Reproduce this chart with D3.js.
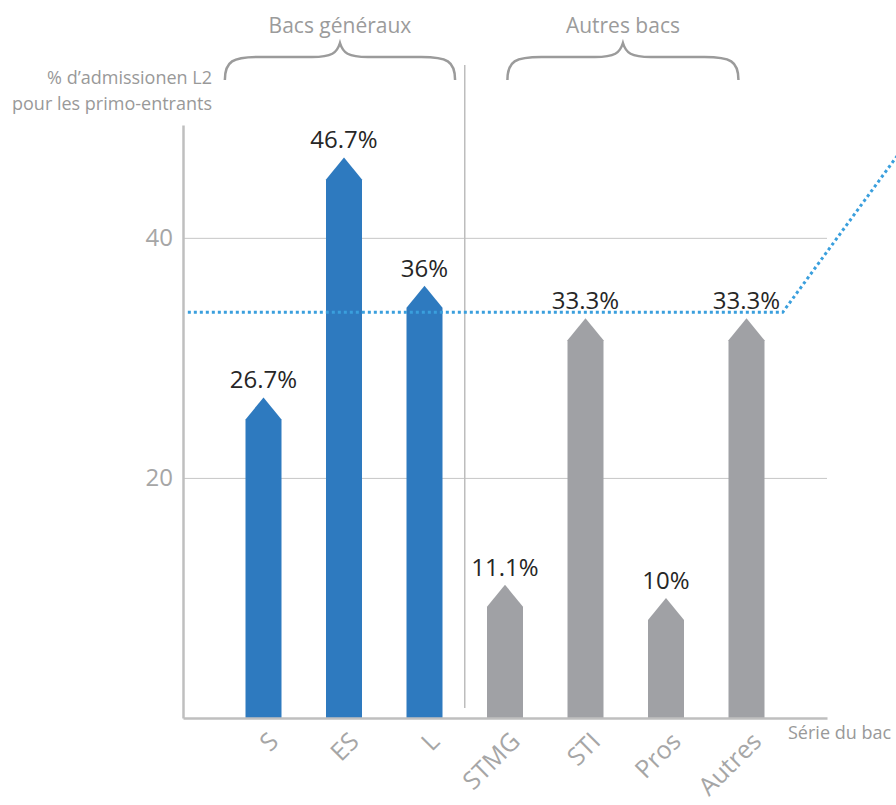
<!DOCTYPE html>
<html>
<head>
<meta charset="utf-8">
<script src="https://d3js.org/d3.v7.min.js"></script>
<style>
  body { margin: 0; background: #fff; }
  svg text { font-family: "Open Sans", sans-serif; }
</style>
</head>
<body>
<svg id="chart" width="896" height="805"></svg>
<script>
// data
var categories = ["S", "ES", "L", "STMG", "STI", "Pros", "Autres"];
var values = [26.7, 46.7, 36, 11.1, 33.3, 10, 33.3];
var valueLabels = ["26.7%", "46.7%", "36%", "11.1%", "33.3%", "10%", "33.3%"];
var groupOf = ["gen", "gen", "gen", "autres", "autres", "autres", "autres"];
var groupNames = ["Bacs généraux", "Autres bacs"];
var yTicks = [20, 40];
var avgValue = 33.8;
// dotted reference line, in (category index, value) space
var avgLine = [[0.06, avgValue], [7.45, avgValue], [9, 48]];

var svg = d3.select("#chart");
var plotLeft = 183, plotRight = 827, plotBottom = 718, plotTop = 125;

var x = d3.scalePoint().domain(categories).range([plotLeft, plotRight]).padding(1);
var xi = d3.scaleLinear([0, categories.length + 1], [plotLeft, plotRight]);
var y = d3.scaleLinear([0, 49.4], [plotBottom, plotTop]);
var color = d3.scaleOrdinal(["gen", "autres"], ["#2e7abf", "#a0a1a5"]);

// gridlines
svg.append("g")
    .attr("transform", "translate(" + plotLeft + ",0)")
    .call(d3.axisLeft(y).tickValues(yTicks).tickSize(-(plotRight - plotLeft)).tickFormat(""))
    .call(g => g.select(".domain").remove())
    .call(g => g.selectAll("line").attr("stroke", "#c6c6c6").attr("stroke-width", 1));

// y axis + labels
svg.append("g")
    .attr("transform", "translate(" + plotLeft + ",0)")
    .call(d3.axisLeft(y).tickValues(yTicks).tickSize(0).tickSizeOuter(0).tickPadding(10))
    .call(g => g.select(".domain").attr("stroke", "#bfbfbf").attr("stroke-width", 2.5))
    .call(g => g.selectAll("text").attr("fill", "#a6a6a6").style("font-size", "24px"));

svg.append("text").attr("x", 212).attr("y", 84).attr("text-anchor", "end")
    .attr("fill", "#999").style("font-size", "18px").text("% d’admissionen L2");
svg.append("text").attr("x", 212).attr("y", 110).attr("text-anchor", "end")
    .attr("fill", "#999").style("font-size", "18px").text("pour les primo-entrants");

// separator between groups
svg.append("line")
    .attr("x1", xi(3.5)).attr("x2", xi(3.5))
    .attr("y1", 65).attr("y2", 708)
    .attr("stroke", "#bdbdbd").attr("stroke-width", 1.5);

// bars with arrow heads
var bw = 36, head = 22;
function arrow(d, i) {
    var cx = x(categories[i]), t = y(d);
    return "M" + (cx - bw/2) + "," + plotBottom +
        "L" + (cx - bw/2) + "," + (t + head) +
        "L" + cx + "," + t +
        "L" + (cx + bw/2) + "," + (t + head) +
        "L" + (cx + bw/2) + "," + plotBottom + "Z";
}
svg.append("g").selectAll("path")
    .data(values)
    .join("path")
    .attr("d", arrow)
    .attr("fill", (d, i) => color(groupOf[i]));

svg.append("g").selectAll("text")
    .data(values)
    .join("text")
    .attr("x", (d, i) => x(categories[i]))
    .attr("y", d => y(d) - 9)
    .attr("text-anchor", "middle")
    .attr("fill", "#262626")
    .style("font-size", "24px")
    .text((d, i) => valueLabels[i]);

// x axis
svg.append("g")
    .attr("transform", "translate(0," + plotBottom + ")")
    .call(d3.axisBottom(x).tickSize(0).tickSizeOuter(0))
    .call(g => g.select(".domain").attr("stroke", "#bfbfbf").attr("stroke-width", 2.5))
    .call(g => g.selectAll("text")
        .attr("x", 0).attr("y", 0).attr("dy", 0)
        .attr("text-anchor", "end")
        .attr("transform", "translate(16,25) rotate(-45)")
        .attr("fill", "#a6a6a6")
        .style("font-size", "25px"));

svg.append("text").attr("x", 788).attr("y", 739)
    .attr("fill", "#999").style("font-size", "18px").text("Série du bac");

// dotted average line
svg.append("path")
    .datum(avgLine)
    .attr("d", d3.line(d => xi(d[0]), d => y(d[1])))
    .attr("fill", "none")
    .attr("stroke", "#3a9fdd")
    .attr("stroke-width", 3)
    .attr("stroke-dasharray", "3,3");

// group braces
var braceSpan = [[0.52, 3.38], [4.03, 6.9]];
function brace(a, b) {
    var m = (a + b) / 2, yb = 80, yf = 57, yt = 43, r = 22;
    return "M" + a + "," + yb +
        "C" + a + "," + (yf + 4) + " " + (a + 8) + "," + yf + " " + (a + r + 12) + "," + yf +
        "L" + (m - 28) + "," + yf +
        "C" + (m - 8) + "," + yf + " " + (m - 3) + "," + (yf - 4) + " " + m + "," + yt +
        "C" + (m + 3) + "," + (yf - 4) + " " + (m + 8) + "," + yf + " " + (m + 28) + "," + yf +
        "L" + (b - r - 12) + "," + yf +
        "C" + (b - 8) + "," + yf + " " + b + "," + (yf + 4) + " " + b + "," + yb;
}
var braces = svg.append("g").selectAll("g")
    .data(groupNames)
    .join("g");
braces.append("path")
    .attr("d", (d, i) => brace(xi(braceSpan[i][0]), xi(braceSpan[i][1])))
    .attr("fill", "none")
    .attr("stroke", "#9b9b9b")
    .attr("stroke-width", 2.5);
braces.append("text")
    .attr("x", (d, i) => (xi(braceSpan[i][0]) + xi(braceSpan[i][1])) / 2)
    .attr("y", 33)
    .attr("text-anchor", "middle")
    .attr("fill", "#9b9b9b")
    .style("font-size", "21px")
    .text(d => d);
</script>
</body>
</html>
